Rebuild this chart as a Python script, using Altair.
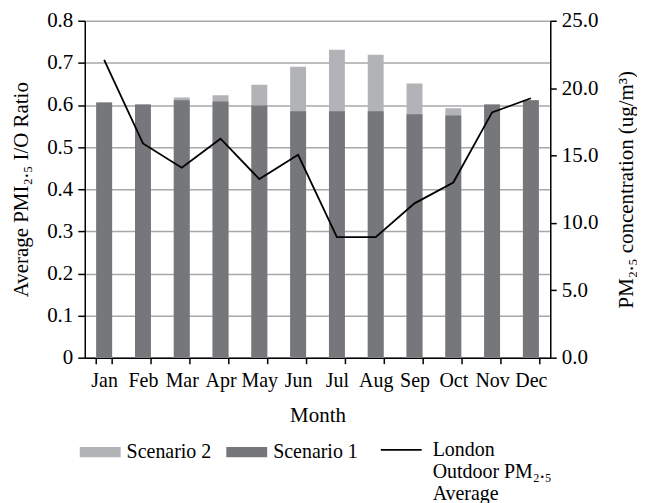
import altair as alt
import pandas as pd

months = ["Jan", "Feb", "Mar", "Apr", "May", "Jun", "Jul", "Aug", "Sep", "Oct", "Nov", "Dec"]
scenario1 = [0.606, 0.601, 0.611, 0.608, 0.599, 0.585, 0.585, 0.585, 0.578, 0.575, 0.601, 0.611]
scenario2 = [0.606, 0.601, 0.618, 0.623, 0.648, 0.691, 0.731, 0.719, 0.651, 0.592, 0.601, 0.611]
london = [22.1, 15.9, 14.1, 16.25, 13.25, 15.05, 8.95, 8.95, 11.45, 13.0, 18.2, 19.25]
series_names = ["Scenario 2", "Scenario 1"]
line_name = "London Outdoor PM2.5 Average"
left_ticks = [0, 0.1, 0.2, 0.3, 0.4, 0.5, 0.6, 0.7, 0.8]
right_ticks = [0, 5, 10, 15, 20, 25]

FONT = "Liberation Serif"

bars_df = pd.DataFrame({
    "Month": months * 2,
    "Series": [series_names[0]] * 12 + [series_names[1]] * 12,
    "Ratio": scenario2 + scenario1,
})
line_df = pd.DataFrame({
    "Month": months,
    "Idx": list(range(len(months))),
    "PM": london,
    "Series": [line_name] * len(months),
})

x_enc = alt.X(
    "Month:N", sort=months, title="Month",
    scale=alt.Scale(paddingInner=0.59, paddingOuter=0.295),
    axis=alt.Axis(labelAngle=0, tickBand="extent", tickSize=6, tickWidth=1.5,
                  tickColor="black", domainColor="black", domainWidth=1.5,
                  labelFontSize=20, labelPadding=7, titlePadding=14, grid=False),
)

bars = alt.Chart(bars_df).mark_bar().encode(
    x=x_enc,
    y=alt.Y("Ratio:Q", stack=None,
            scale=alt.Scale(domain=[0, 0.8], nice=False),
            axis=alt.Axis(values=left_ticks, format=".1~f",
                          title="Average PMI\u2082.\u2085 I/O Ratio",
                          grid=True, gridColor="#a8a8a8", gridWidth=1.5,
                          tickSize=7, tickWidth=1.5, tickColor="black",
                          domainColor="black", domainWidth=1.5,
                          labelPadding=5, titlePadding=15)),
    fill=alt.Fill("Series:N",
                  scale=alt.Scale(domain=series_names, range=["#b2b3b7", "#76777b"]),
                  legend=alt.Legend(orient="none", legendX=-5, legendY=412,
                                    title=None, direction="horizontal",
                                    symbolType="M-1,-0.25L1,-0.25L1,0.25L-1,0.25Z",
                                    symbolSize=1681, symbolStrokeWidth=0,
                                    labelOffset=6, columnPadding=15)),
)

line = alt.Chart(line_df).mark_line(strokeWidth=1.8).encode(
    x=alt.X("Month:N", sort=months),
    y=alt.Y("PM:Q",
            scale=alt.Scale(domain=[0, 25], nice=False),
            axis=alt.Axis(orient="right", values=right_ticks, format=".1f",
                          title="PM\u2082.\u2085 concentration (ug/m\u00b3)",
                          titleAngle=270, titleBaseline="top", grid=False,
                          tickSize=6, tickWidth=1.5, tickColor="black",
                          domainColor="black", domainWidth=1.5,
                          labelPadding=5, titlePadding=18)),
    order=alt.Order("Idx:Q"),
    stroke=alt.Stroke("Series:N",
                      scale=alt.Scale(domain=[line_name], range=["black"]),
                      legend=alt.Legend(orient="none", legendX=296, legendY=409,
                                        title=None,
                                        symbolType="stroke", symbolSize=1681,
                                        symbolStrokeWidth=1.8, labelOffset=10,
                                        labelExpr="['London', 'Outdoor PM\u2082.\u2085', 'Average']")),
)

chart = alt.layer(bars, line).resolve_scale(
    y="independent"
).properties(
    width=467, height=338,
    padding={"left": 2, "top": 1, "right": 0, "bottom": 0},
).configure_axis(
    labelFont=FONT, titleFont=FONT, labelFontSize=21, titleFontSize=21,
    labelColor="black", titleColor="black", titleFontWeight="normal",
).configure_legend(
    labelFont=FONT, labelFontSize=20, labelColor="black",
).configure_view(stroke=None)

chart.save("out.html", embed_options={"renderer": "svg", "actions": False})
